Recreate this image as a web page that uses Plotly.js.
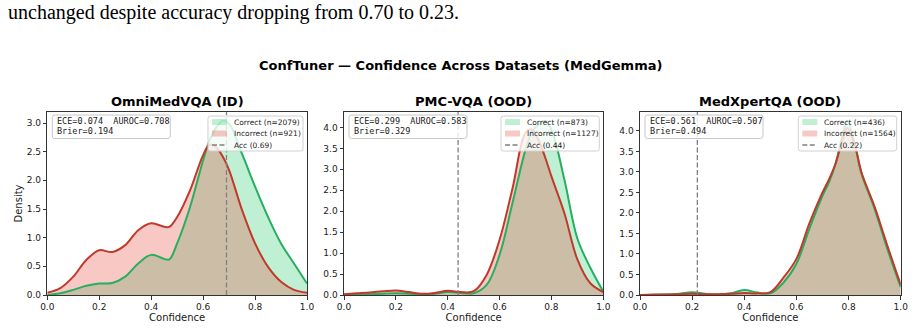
<!DOCTYPE html>
<html>
<head>
<meta charset="utf-8">
<script src="https://cdn.plot.ly/plotly-3.0.1.min.js"></script>
<style>
  html, body { margin: 0; padding: 0; background: #ffffff; }
  #chart { width: 914px; height: 328px; }
</style>
</head>
<body>
<div id="chart"></div>
<script>
// Kernel density estimates of model confidence, split by correct / incorrect answers.
const omniConf      = [0, 0.05, 0.1, 0.15, 0.2, 0.25, 0.3, 0.35, 0.4, 0.45, 0.47, 0.5, 0.55, 0.6, 0.625, 0.65, 0.675, 0.7, 0.75, 0.8, 0.85, 0.9, 0.95, 1.0];
const omniCorrect   = [0.0, 0.03, 0.09, 0.16, 0.20, 0.21, 0.32, 0.55, 0.70, 0.63, 0.62, 0.90, 1.54, 2.35, 2.70, 2.92, 3.04, 2.99, 2.46, 1.89, 1.36, 0.90, 0.55, 0.20];
const omniIncorrect = [0.04, 0.12, 0.32, 0.61, 0.78, 0.75, 0.87, 1.13, 1.25, 1.19, 1.19, 1.36, 1.83, 2.44, 2.62, 2.58, 2.42, 2.18, 1.48, 0.90, 0.49, 0.23, 0.09, 0.04];

const pmcConf      = [0, 0.05, 0.1, 0.15, 0.2, 0.25, 0.3, 0.35, 0.4, 0.45, 0.5, 0.55, 0.6, 0.65, 0.7, 0.725, 0.75, 0.775, 0.8, 0.85, 0.9, 0.95, 1.0];
const pmcCorrect   = [0.0, 0.01, 0.02, 0.03, 0.04, 0.03, 0.01, 0.03, 0.07, 0.05, 0.04, 0.24, 0.96, 2.20, 3.47, 3.90, 4.07, 4.16, 3.95, 2.75, 1.35, 0.65, 0.08];
const pmcIncorrect = [0.02, 0.04, 0.06, 0.09, 0.11, 0.07, 0.03, 0.05, 0.10, 0.07, 0.09, 0.48, 1.32, 2.55, 3.87, 3.95, 3.70, 3.30, 2.83, 1.95, 0.85, 0.28, 0.07];

const xpConf      = [0, 0.05, 0.1, 0.15, 0.2, 0.25, 0.3, 0.35, 0.4, 0.45, 0.5, 0.55, 0.6, 0.65, 0.7, 0.725, 0.75, 0.775, 0.795, 0.825, 0.85, 0.9, 0.95, 1.0];
const xpCorrect   = [0.0, 0.0, 0.01, 0.03, 0.07, 0.03, 0.01, 0.04, 0.12, 0.06, 0.04, 0.30, 0.76, 1.62, 2.42, 2.75, 3.20, 3.85, 4.25, 3.65, 2.95, 2.10, 1.10, 0.19];
const xpIncorrect = [0.0, 0.01, 0.01, 0.02, 0.03, 0.02, 0.02, 0.03, 0.05, 0.04, 0.07, 0.42, 0.88, 1.75, 2.50, 2.82, 3.20, 3.75, 4.07, 3.62, 2.98, 2.15, 1.18, 0.25];

// Per-dataset summary numbers
const datasetNames = ['OmniMedVQA (ID)', 'PMC-VQA (OOD)', 'MedXpertQA (OOD)'];
const nCorrect     = [2079, 873, 436];
const nIncorrect   = [921, 1127, 1564];
const accuracy     = [0.69, 0.44, 0.22];
const eceScores    = [0.074, 0.299, 0.561];
const aurocScores  = [0.708, 0.583, 0.507];
const brierScores  = [0.194, 0.329, 0.494];
const xTickVals    = [0, 0.2, 0.4, 0.6, 0.8, 1.0];

const confGrids    = [omniConf, pmcConf, xpConf];
const correctKde   = [omniCorrect, pmcCorrect, xpCorrect];
const incorrectKde = [omniIncorrect, pmcIncorrect, xpIncorrect];

// ---- layout geometry (pixels) ----
const W = 914, H = 328;
const px = v => v / W;
const py = v => 1 - v / H;
const panelLeft  = [47.3, 344.0, 640.0];
const panelRight = [307.0, 603.3, 900.7];
const panelTop = 112, panelBottom = 295;
const legendWidth = [95, 98.3, 98.4];

const GREEN_LINE = '#27ae60', GREEN_FILL = 'rgba(46,204,113,0.3)';
const RED_LINE = '#c0392b',   RED_FILL = 'rgba(231,76,60,0.3)';
const ACC_COLOR = '#808080';
const FONT = 'DejaVu Sans, Verdana, sans-serif';
const MONO = 'DejaVu Sans Mono, monospace';
const INK = '#1a1a1a';

function roundedBox(x0, y0, x1, y1, r) {
  const p = (x, y) => px(x).toFixed(5) + ',' + py(y).toFixed(5);
  return 'M' + p(x0 + r, y0) + ' L' + p(x1 - r, y0) + ' Q' + p(x1, y0) + ' ' + p(x1, y0 + r) +
         ' L' + p(x1, y1 - r) + ' Q' + p(x1, y1) + ' ' + p(x1 - r, y1) +
         ' L' + p(x0 + r, y1) + ' Q' + p(x0, y1) + ' ' + p(x0, y1 - r) +
         ' L' + p(x0, y0 + r) + ' Q' + p(x0, y0) + ' ' + p(x0 + r, y0) + ' Z';
}

const traces = [];
const shapes = [];
const annotations = [];
const layout = {
  width: W, height: H,
  margin: {l: 0, r: 0, t: 0, b: 0},
  paper_bgcolor: '#ffffff', plot_bgcolor: '#ffffff',
  showlegend: false,
  font: {family: FONT, color: INK}
};

datasetNames.forEach((name, i) => {
  const sfx = i === 0 ? '' : String(i + 1);
  const xa = 'x' + sfx, ya = 'y' + sfx;
  const conf = confGrids[i];
  const top = 1.05 * Math.max(...correctKde[i], ...incorrectKde[i]);
  const labels = ['Correct (n=' + nCorrect[i] + ')', 'Incorrect (n=' + nIncorrect[i] + ')',
                  'Acc (' + accuracy[i].toFixed(2) + ')'];
  const spline = {shape: 'spline', smoothing: 1};

  // shaded areas first, outlines on top of both
  traces.push({
    type: 'scatter', mode: 'lines', x: conf, y: correctKde[i], xaxis: xa, yaxis: ya,
    fill: 'tozeroy', fillcolor: GREEN_FILL, line: Object.assign({color: GREEN_LINE, width: 0}, spline),
    name: labels[0], hoverinfo: 'skip'
  });
  traces.push({
    type: 'scatter', mode: 'lines', x: conf, y: incorrectKde[i], xaxis: xa, yaxis: ya,
    fill: 'tozeroy', fillcolor: RED_FILL, line: Object.assign({color: RED_LINE, width: 0}, spline),
    name: labels[1], hoverinfo: 'skip'
  });
  traces.push({
    type: 'scatter', mode: 'lines', x: conf, y: correctKde[i], xaxis: xa, yaxis: ya,
    line: Object.assign({color: GREEN_LINE, width: 2}, spline), hoverinfo: 'skip'
  });
  traces.push({
    type: 'scatter', mode: 'lines', x: conf, y: incorrectKde[i], xaxis: xa, yaxis: ya,
    line: Object.assign({color: RED_LINE, width: 2}, spline), hoverinfo: 'skip'
  });
  traces.push({
    type: 'scatter', mode: 'lines', x: [accuracy[i], accuracy[i]], y: [0, top], xaxis: xa, yaxis: ya,
    line: {color: ACC_COLOR, width: 1.3, dash: '5px,2.5px'},
    name: labels[2], hoverinfo: 'skip'
  });

  const axisCommon = {
    showgrid: false, zeroline: false, showline: true, mirror: true,
    linecolor: '#333333', linewidth: 1,
    ticks: 'outside', ticklen: 3.5, tickwidth: 1, tickcolor: '#333333',
    tickfont: {family: FONT, size: 9, color: INK}, tickformat: '.1f', fixedrange: true
  };
  layout['xaxis' + sfx] = Object.assign({}, axisCommon, {
    domain: [px(panelLeft[i]), px(panelRight[i])], range: [0, 1],
    tickvals: xTickVals, anchor: ya,
    title: {text: 'Confidence', standoff: 1, font: {family: FONT, size: 10, color: INK}}
  });
  layout['yaxis' + sfx] = Object.assign({}, axisCommon, {
    domain: [py(panelBottom), py(panelTop)], range: [0, top],
    dtick: 0.5, tick0: 0, anchor: xa,
    title: i === 0 ? {text: 'Density', standoff: 2, font: {family: FONT, size: 10, color: INK}} : {text: ''}
  });

  // panel title
  annotations.push({
    xref: 'paper', yref: 'paper', x: px((panelLeft[i] + panelRight[i]) / 2), y: py(101.5),
    xanchor: 'center', yanchor: 'middle', showarrow: false,
    text: name, font: {family: FONT, size: 13, color: '#000', weight: 'bold'}
  });

  // metric box (top-left)
  const bx0 = panelLeft[i] + 5, bx1 = bx0 + 118;
  shapes.push({
    type: 'path', xref: 'paper', yref: 'paper', layer: 'above',
    path: roundedBox(bx0, 115, bx1, 138.5, 2.5),
    fillcolor: 'rgba(255,255,255,0.8)', line: {color: '#c8c8c8', width: 1}
  });
  annotations.push({
    xref: 'paper', yref: 'paper', x: px(bx0 + 3), y: py(121), xanchor: 'left', yanchor: 'middle',
    showarrow: false, font: {family: MONO, size: 8.5, color: INK},
    text: 'ECE=' + eceScores[i].toFixed(3) + '\u00a0\u00a0AUROC=' + aurocScores[i].toFixed(3)
  });
  annotations.push({
    xref: 'paper', yref: 'paper', x: px(bx0 + 3), y: py(130.5), xanchor: 'left', yanchor: 'middle',
    showarrow: false, font: {family: MONO, size: 8.5, color: INK},
    text: 'Brier=' + brierScores[i].toFixed(3)
  });

  // legend (top-right)
  const lx1 = panelRight[i] - 4, lx0 = lx1 - legendWidth[i];
  shapes.push({
    type: 'path', xref: 'paper', yref: 'paper', layer: 'above',
    path: roundedBox(lx0, 116, lx1, 151, 2.5),
    fillcolor: 'rgba(255,255,255,0.8)', line: {color: '#d0d0d0', width: 1}
  });
  const rows = [122, 133.5, 145];
  shapes.push({type: 'rect', xref: 'paper', yref: 'paper', layer: 'above',
    x0: px(lx0 + 4), x1: px(lx0 + 19), y0: py(rows[0] - 3), y1: py(rows[0] + 3),
    fillcolor: GREEN_FILL, line: {width: 0}});
  shapes.push({type: 'rect', xref: 'paper', yref: 'paper', layer: 'above',
    x0: px(lx0 + 4), x1: px(lx0 + 19), y0: py(rows[1] - 3), y1: py(rows[1] + 3),
    fillcolor: RED_FILL, line: {width: 0}});
  shapes.push({type: 'line', xref: 'paper', yref: 'paper', layer: 'above',
    x0: px(lx0 + 4), x1: px(lx0 + 19), y0: py(rows[2]), y1: py(rows[2]),
    line: {color: ACC_COLOR, width: 1.3, dash: '5px,2.5px'}});
  labels.forEach((label, k) => {
    annotations.push({
      xref: 'paper', yref: 'paper', x: px(lx0 + 24), y: py(rows[k]), xanchor: 'left', yanchor: 'middle',
      showarrow: false, text: label, font: {family: FONT, size: 7.5, color: INK}
    });
  });
});

// figure title and the running text line above it
annotations.push({
  xref: 'paper', yref: 'paper', x: px(460.5), y: py(65.5), xanchor: 'center', yanchor: 'middle',
  showarrow: false, text: 'ConfTuner \u2014 Confidence Across Datasets (MedGemma)',
  font: {family: FONT, size: 13, color: '#000', weight: 'bold'}
});
annotations.push({
  xref: 'paper', yref: 'paper', x: px(6), y: py(12.5), xanchor: 'left', yanchor: 'middle',
  showarrow: false, text: 'unchanged despite accuracy dropping from 0.70 to 0.23.',
  font: {family: 'Liberation Serif, Times New Roman, serif', size: 20, color: '#000'}
});

layout.shapes = shapes;
layout.annotations = annotations;

Plotly.newPlot('chart', traces, layout, {displayModeBar: false, staticPlot: true});
</script>
</body>
</html>
